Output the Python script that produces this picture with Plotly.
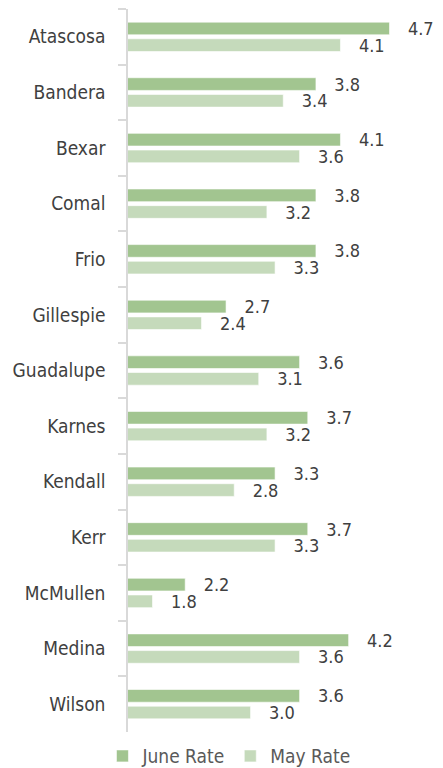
import plotly.graph_objects as go

counties = ["Atascosa", "Bandera", "Bexar", "Comal", "Frio", "Gillespie", "Guadalupe",
            "Karnes", "Kendall", "Kerr", "McMullen", "Medina", "Wilson"]
june_rate = [4.7, 3.8, 4.1, 3.8, 3.8, 2.7, 3.6, 3.7, 3.3, 3.7, 2.2, 4.2, 3.6]
may_rate = [4.1, 3.4, 3.6, 3.2, 3.3, 2.4, 3.1, 3.2, 2.8, 3.3, 1.8, 3.6, 3.0]

FONT = "DejaVu Sans Condensed, DejaVu Sans, sans-serif"
PAD = "   "

fig = go.Figure()
fig.add_trace(go.Bar(
    y=counties, x=june_rate, name="June Rate", orientation="h",
    marker=dict(color="#A2C590", line=dict(color="white", width=0.6)),
    text=[PAD + f"{v:.1f}" for v in june_rate], textposition="outside",
    constraintext="none",
    textfont=dict(family=FONT, size=18, color="#404040"), cliponaxis=False,
))
fig.add_trace(go.Bar(
    y=counties, x=may_rate, name="May Rate", orientation="h",
    marker=dict(color="#C5DABB", line=dict(color="white", width=0.6)),
    text=[PAD + f"{v:.1f}" for v in may_rate], textposition="outside",
    constraintext="none",
    textfont=dict(family=FONT, size=18, color="#404040"), cliponaxis=False,
))

fig.update_layout(
    width=443, height=768,
    margin=dict(l=128, r=29, t=9, b=36, autoexpand=False),
    barmode="group", bargap=0.4, bargroupgap=0.24,
    plot_bgcolor="white", paper_bgcolor="white",
    font=dict(family=FONT, color="#404040"),
    showlegend=True,
    legend=dict(orientation="h", x=0.353, xanchor="center", y=-0.007, yanchor="top",
                font=dict(family=FONT, size=19, color="#595959"),
                itemwidth=30, traceorder="normal"),
)
fig.update_xaxes(range=[1.5, 5.0], visible=False, showgrid=False, zeroline=False)
fig.update_yaxes(
    autorange="reversed", type="category", tickson="boundaries", automargin=False,
    showline=True, linecolor="#D9D9D9", linewidth=1.5,
    ticks="outside", ticklen=8, tickcolor="#D9D9D9", tickwidth=1.5,
    ticklabelstandoff=17,
    tickfont=dict(family=FONT, size=19, color="#404040"),
    showgrid=False,
)
fig.write_html("out.html", config={"displayModeBar": False},
               post_script="document.body.style.margin='0';document.body.style.overflow='hidden';")
